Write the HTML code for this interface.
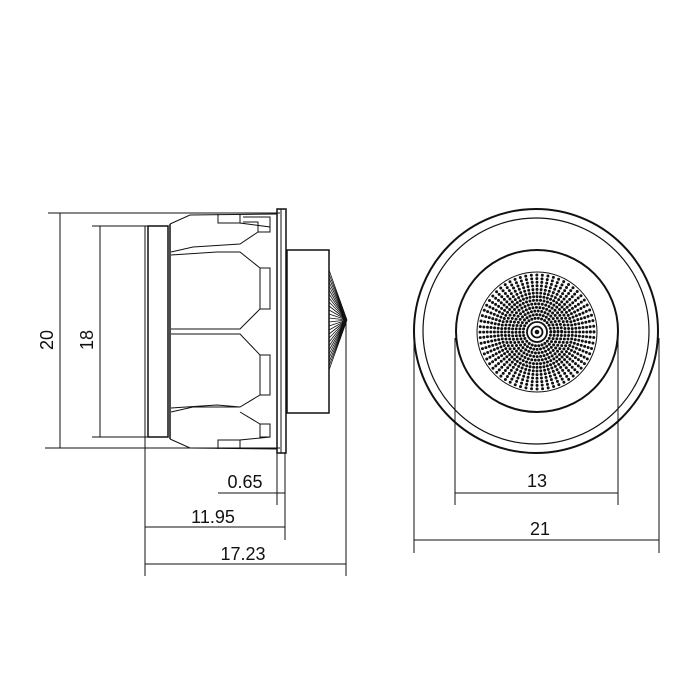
<!DOCTYPE html>
<html><head><meta charset="utf-8"><style>body{margin:0;background:#fff}svg{display:block}text{font-family:"Liberation Sans",sans-serif;font-size:18px;fill:#111}</style></head><body>
<svg width="700" height="700" viewBox="0 0 700 700" xmlns="http://www.w3.org/2000/svg">
<g stroke="#111" fill="none" stroke-width="1">
<line x1="48" y1="213" x2="280" y2="213"/>
<line x1="45" y1="448" x2="280" y2="448"/>
<line x1="60" y1="213" x2="60" y2="448"/>
<line x1="92" y1="226" x2="146" y2="226"/>
<line x1="92" y1="437" x2="146" y2="437"/>
<line x1="100" y1="226" x2="100" y2="437"/>
<line x1="145" y1="437" x2="145" y2="576"/>
<line x1="277" y1="453" x2="277" y2="505"/>
<line x1="285" y1="453" x2="285" y2="540"/>
<line x1="346" y1="320" x2="346" y2="576"/>
<line x1="218" y1="493" x2="285" y2="493"/>
<line x1="145" y1="527" x2="285" y2="527"/>
<line x1="145" y1="564" x2="346" y2="564"/>
<rect x="145" y="226" width="3" height="211"/>
<rect x="148" y="226" width="20" height="211" stroke-width="1.5"/>
<path d="M170 224 L190 215 L277 214 M170 439 L190 448 L277 449"/>
<line x1="170" y1="224" x2="170" y2="439" stroke-width="1.5"/>
<rect x="277" y="209" width="9" height="244" stroke-width="1.5"/>
<line x1="281" y1="209" x2="281" y2="453"/>
<path d="M218 214 L218 223 L240 223 L240 214 M240 216 L240 223 L270 227 L270 232 L258 232 L240 244 L193 247 L171 252 M171 255 L217 252 L240 252 L260 268 L270 268 L270 309 L260 309 L240 329 L171 329 M171 334 L240 334 L260 355 L270 355 L270 395 L260 395 L240 407 L193 407 L171 412 M171 408 L217 405 L240 407 M240 412 L260 424 L270 424 L270 437 L240 440 L240 449 M218 449 L218 440 L240 440"/>
<path d="M243 217 L270 217 L270 232 M258 232 L258 222 L243 222"/>
<path d="M260 268 L260 309 M260 355 L260 395 M260 424 L260 437 L270 437"/>
<rect x="287" y="250" width="42" height="163" stroke-width="1.5"/>
<g stroke-width="0.8">
<path d="M329 270 L347 320 M329 274 L347 320 M329 278 L347 320 M329 282 L347 320 M329 286 L347 320 M329 290 L347 320 M329 294 L347 320 M329 298 L347 320 M329 302 L347 320 M329 306 L347 320 M329 310 L347 320 M329 314 L347 320 M329 318 L347 320 M329 322 L347 320 M329 326 L347 320 M329 330 L347 320 M329 334 L347 320 M329 338 L347 320 M329 342 L347 320 M329 346 L347 320 M329 350 L347 320 M329 354 L347 320 M329 358 L347 320 M329 362 L347 320 M329 366 L347 320 M329 370 L347 320"/>
</g>
<circle cx="536" cy="331" r="122" stroke-width="2"/>
<circle cx="536" cy="331" r="113" stroke-width="1.2"/>
<circle cx="537" cy="331" r="81" stroke-width="2"/>
<circle cx="537" cy="332" r="60" stroke-width="1"/>
<g stroke-width="3" stroke-linecap="round" stroke-dasharray="0 1">
<circle cx="537" cy="332" r="57" pathLength="64"/>
<circle cx="537" cy="332" r="53.4" pathLength="64"/>
<circle cx="537" cy="332" r="49.8" pathLength="64"/>
<circle cx="537" cy="332" r="46.2" pathLength="64"/>
<circle cx="537" cy="332" r="42.6" pathLength="64"/>
<circle cx="537" cy="332" r="39" pathLength="64"/>
<circle cx="537" cy="332" r="35.4" pathLength="64"/>
<circle cx="537" cy="332" r="31.8" pathLength="56"/>
<circle cx="537" cy="332" r="28.2" pathLength="50"/>
<circle cx="537" cy="332" r="24.6" pathLength="44"/>
<circle cx="537" cy="332" r="21" pathLength="38"/>
<circle cx="537" cy="332" r="17.4" pathLength="32"/>
<circle cx="537" cy="332" r="13.8" pathLength="26"/>
</g>
<circle cx="537" cy="332" r="10" stroke-width="1.8"/>
<circle cx="537" cy="332" r="5.5" stroke-width="1.8"/>
<circle cx="537" cy="332" r="1.8" fill="#111"/>
<line x1="455" y1="338" x2="455" y2="505"/>
<line x1="618" y1="338" x2="618" y2="505"/>
<line x1="455" y1="493" x2="618" y2="493"/>
<line x1="414" y1="338" x2="414" y2="553"/>
<line x1="659" y1="338" x2="659" y2="553"/>
<line x1="414" y1="540" x2="659" y2="540"/>
</g>
<text x="245" y="488" text-anchor="middle">0.65</text>
<text x="213" y="523" text-anchor="middle">11.95</text>
<text x="243" y="560" text-anchor="middle">17.23</text>
<text x="537" y="487" text-anchor="middle">13</text>
<text x="540" y="535" text-anchor="middle">21</text>
<text transform="translate(53,340) rotate(-90)" text-anchor="middle">20</text>
<text transform="translate(93,340) rotate(-90)" text-anchor="middle">18</text>
</svg>
</body></html>
